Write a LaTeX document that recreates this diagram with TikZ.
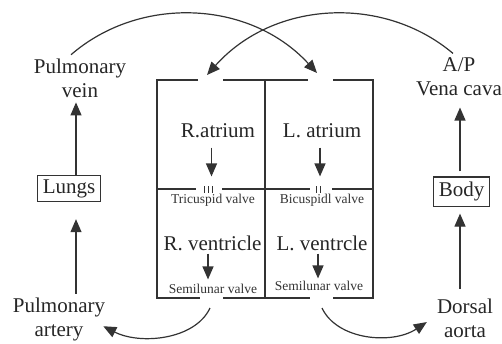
\documentclass[tikz,border=0pt]{standalone}
\usepackage{fontspec}
\setmainfont{Liberation Serif}
\usetikzlibrary{arrows.meta,positioning,calc}

\newcommand{\bigfont}{\fontsize{21}{23.5}\selectfont}
\newcommand{\valvefont}{\fontsize{13.5}{15}\selectfont}

\begin{document}
\begin{tikzpicture}[x=1pt, y=-1pt,
    heart wall/.style={line width=1.5pt, draw=black!80},
    valve mark/.style={line width=1pt, draw=black!80},
    flow arrow/.style={-{Triangle[length=13pt,width=11pt]}, line width=1.2pt, draw=black!80},
    organ box/.style={draw=black!80, line width=1.1pt, inner xsep=5pt, inner ysep=4pt, font=\bigfont, text=black!85},
    chamber/.style={font=\bigfont, inner sep=0pt, anchor=base, text=black!85},
    valve/.style={font=\valvefont, inner sep=0pt, anchor=base, text=black!80},
    place/.style={font=\bigfont, align=center, inner sep=0pt, anchor=base, text=black!85}]

    \useasboundingbox (0,0) rectangle (502,343);

    % heart walls, open where the vessels enter and leave
    \draw [heart wall] (198,80) -- (157,80) -- (157,298) -- (200,298);
    \draw [heart wall] (223,80) -- (308,80);
    \draw [heart wall] (333,80) -- (373,80) -- (373,298) -- (333,298);
    \draw [heart wall] (223,298) -- (310,298);
    \draw [heart wall] (265,80) -- (265,298);

    % septum between atria and ventricles, broken at the valves
    \draw [heart wall] (157,189) -- (196,189);
    \draw [heart wall] (222,189) -- (310,189);
    \draw [heart wall] (332,189) -- (373,189);
    \foreach \x in {204,208,212}
        \draw [valve mark] (\x,186) -- (\x,192.5);
    \foreach \x in {316.5,320.5}
        \draw [valve mark] (\x,186) -- (\x,192.5);

    % chambers
    \node [chamber] (ratrium) at (218,137) {R.atrium};
    \node [chamber] (latrium) at (322,137) {L. atrium};
    \node [valve] (tricuspid) at (213,203) {Tricuspid valve};
    \node [valve] (bicuspid) at (322,203) {Bicuspidl valve};
    \node [chamber] (rventricle) at (212.5,250) {R. ventricle};
    \node [chamber] (lventricle) at (322,250) {L. ventrcle};
    \node [valve] (rsemilunar) at (213,293) {Semilunar valve};
    \node [valve] (lsemilunar) at (319,290) {Semilunar valve};

    \draw [flow arrow, shorten <=10pt, shorten >=17pt] ([xshift=-1.5pt]ratrium.south -| tricuspid) -- ([xshift=-1.5pt]tricuspid.north);
    \draw [flow arrow, shorten <=10pt, shorten >=17pt] ([xshift=-2pt]latrium.south -| bicuspid) -- ([xshift=-2pt]bicuspid.north);
    \draw [flow arrow, shorten <=3pt, shorten >=4pt] ([xshift=-5pt]rventricle.south -| rsemilunar) -- ([xshift=-5pt]rsemilunar.north);
    \draw [flow arrow, shorten <=3pt, shorten >=2pt] ([xshift=-1pt]lventricle.south -| lsemilunar) -- ([xshift=-1pt]lsemilunar.north);

    % lung circuit
    \node [place] (pvein) at (80,97) {Pulmonary\\vein};
    \node [organ box] (lungs) at (69,188.5) {Lungs};
    \node [place] (partery) at (59,336) {Pulmonary\\artery};

    \draw [flow arrow, shorten >=5pt] ([xshift=7pt]lungs.north) -- ([xshift=7pt]lungs.north |- pvein.south);
    \draw [flow arrow, shorten <=4pt, shorten >=17pt] ([xshift=7pt]lungs.south |- partery.north) -- ([xshift=7pt]lungs.south);

    % body circuit
    \node [place] (vcava) at (459,95) {A/P\\Vena cava};
    \node [organ box, inner ysep=5pt] (body) at (461.5,191.5) {Body};
    \node [place] (daorta) at (465,337) {Dorsal\\aorta};

    \draw [flow arrow, shorten <=5pt, shorten >=12pt] ([xshift=-1.5pt]body.north) -- ([xshift=-1.5pt]body.north |- vcava.south);
    \draw [flow arrow, shorten <=10pt, shorten >=7pt] ([xshift=-1.5pt]body.south |- daorta.north) -- ([xshift=-1.5pt]body.south);

    % vessels into and out of the heart
    \coordinate (ra inlet) at (207,75);
    \coordinate (la inlet) at (317,73);
    \coordinate (pa outlet) at (210,308);
    \coordinate (ao outlet) at (322,308);

    \draw [flow arrow] ([xshift=-9pt,yshift=4pt]pvein.north) .. controls (140,-5) and (250,0) .. (la inlet);
    \draw [flow arrow] ([xshift=-6pt,yshift=4pt]vcava.north) .. controls (384,-5) and (274,0) .. (ra inlet);
    \draw [flow arrow] (pa outlet) .. controls (195,340) and (140,345) .. ([shift={(-2pt,-7pt)}]partery.east);
    \draw [flow arrow] (ao outlet) .. controls (337,340) and (392,345) .. ([shift={(-10pt,-4pt)}]daorta.west);

\end{tikzpicture}
\end{document}
